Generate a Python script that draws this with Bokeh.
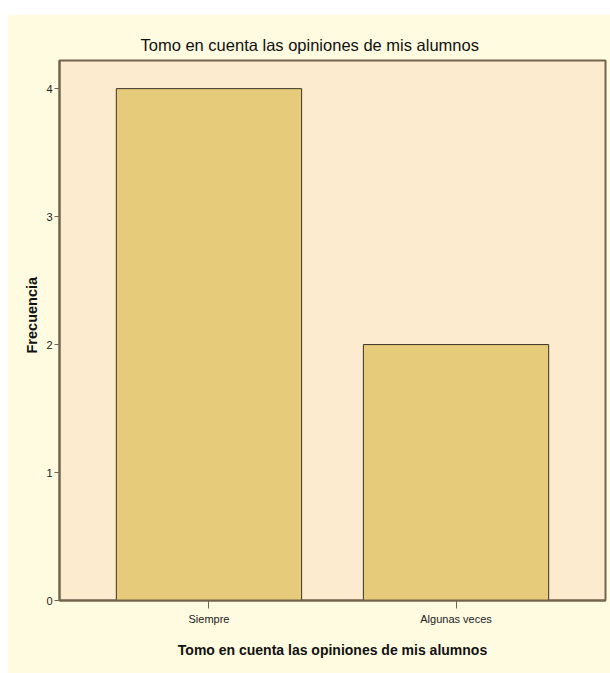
from bokeh.plotting import figure
from bokeh.models import ColumnDataSource, FactorRange, Range1d, Spacer, Title
from bokeh.layouts import column, row
from bokeh.embed import file_html
from bokeh.resources import INLINE

# Frequency of answers to "Tomo en cuenta las opiniones de mis alumnos"
categories = ["Siempre", "Algunas veces"]
counts = [4, 2]
y_ticks = [0, 1, 2, 3, 4]

title_text = "Tomo en cuenta las opiniones de mis alumnos"
x_label = "Tomo en cuenta las opiniones de mis alumnos"
y_label = "Frecuencia"

OUTER_BG = "#FFFBE0"
PLOT_BG = "#FDEBCF"
BAR_FILL = "#E6CB7B"
AXIS_COL = "#75654F"

source = ColumnDataSource(data=dict(cat=categories, n=counts))

p = figure(
    x_range=FactorRange(*categories),
    y_range=Range1d(0, 4.22),
    width=603, height=659,
    min_border_left=52, min_border_right=5, min_border_top=46, min_border_bottom=73,
    output_backend="svg", toolbar_location=None,
    background_fill_color=PLOT_BG, border_fill_color=OUTER_BG,
)
p.x_range.range_padding = 0.105
p.x_range.range_padding_units = "absolute"

p.vbar(x="cat", top="n", width=0.75, source=source,
       fill_color=BAR_FILL, line_color="#3A3226", line_width=1)

p.title.text = title_text
p.title.align = "left"
p.title.text_font = "Liberation Sans"
p.title.text_font_size = "16.5px"
p.title.text_font_style = "normal"
p.title.text_color = "#111111"
p.title.offset = 81
p.title.standoff = 13

p.outline_line_color = AXIS_COL
p.outline_line_width = 2
p.xgrid.grid_line_color = None
p.ygrid.grid_line_color = None

for ax in (p.xaxis[0], p.yaxis[0]):
    ax.axis_line_color = AXIS_COL
    ax.axis_line_width = 2
    ax.major_tick_line_color = AXIS_COL
    ax.major_tick_line_width = 1
    ax.minor_tick_line_color = None
    ax.major_tick_in = 0
    ax.major_label_text_font = "Liberation Sans"
    ax.major_label_text_font_size = "11px"
    ax.major_label_text_color = "#222222"
    ax.axis_label_text_font = "Liberation Sans"
    ax.axis_label_text_font_style = "bold"
    ax.axis_label_text_color = "#111111"

p.yaxis.ticker = y_ticks
p.yaxis.major_tick_out = 5
p.yaxis.major_label_standoff = 2

# Rotated y caption as a side title, so it can sit a little above centre
p.add_layout(Title(
    text=y_label, align="left", offset=247, standoff=8,
    text_font="Liberation Sans", text_font_style="bold",
    text_font_size="14.5px", text_color="#111111",
), "left")

p.xaxis.major_tick_out = 8
p.xaxis.major_label_standoff = 4
p.xaxis.axis_label = x_label
p.xaxis.axis_label_text_font_size = "14px"
p.xaxis.axis_label_standoff = 14

layout = column(
    Spacer(width=610, height=14, background="white"),
    row(Spacer(width=7, height=659, background="white"), p),
)

open("out.html", "w").write(file_html(layout, INLINE))
